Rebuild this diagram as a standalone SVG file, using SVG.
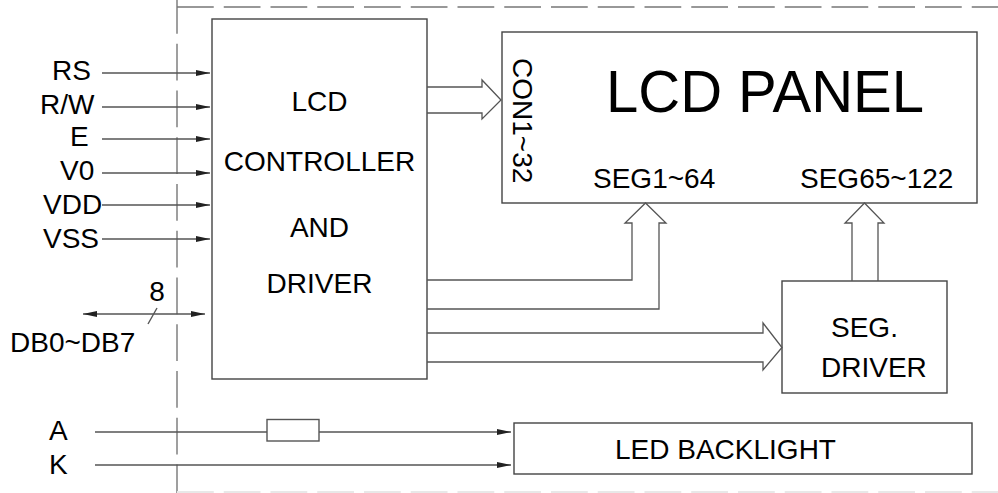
<svg xmlns="http://www.w3.org/2000/svg" width="998" height="493" viewBox="0 0 998 493">
<style>
text{font-family:"Liberation Sans",Arial,sans-serif;font-size:28px;fill:#000}
.box{fill:#fff;stroke:#444;stroke-width:1.4}
.ln{fill:none;stroke:#555;stroke-width:1.4}
.big{fill:none;stroke:#555;stroke-width:1.3;stroke-linejoin:miter}
.dash{fill:none;stroke:#777;stroke-width:1.4;stroke-dasharray:36.75 10}
</style>
<defs>
<marker id="ah" markerUnits="userSpaceOnUse" markerWidth="15" markerHeight="7" refX="14" refY="3" orient="auto-start-reverse" viewBox="0 0 15 7">
<path d="M0,0 L14,3 L0,6 z" fill="#222"/>
</marker>
</defs>
<g id="border">
<line class="dash" x1="177" y1="7" x2="998" y2="7"/>
<line class="dash" x1="177" y1="-3" x2="177" y2="493"/>
<line x1="177" y1="492" x2="998" y2="492" style="stroke:#e8e8e8;stroke-width:2;stroke-dasharray:36.75 10"/>
</g>
<g id="controller">
<rect class="box" x="212" y="19" width="215" height="360"/>
<text x="319.5" y="111" text-anchor="middle">LCD</text>
<text x="319.5" y="171" text-anchor="middle">CONTROLLER</text>
<text x="319.5" y="237" text-anchor="middle">AND</text>
<text x="319.5" y="293" text-anchor="middle">DRIVER</text>
</g>
<g id="lcd-panel">
<rect class="box" x="502" y="32" width="475" height="171"/>
<text transform="translate(513,58) rotate(90)">CON1~32</text>
<text x="606" y="112" style="font-size:60px" textLength="318" lengthAdjust="spacingAndGlyphs">LCD PANEL</text>
<text x="593" y="188">SEG1~64</text>
<text x="800" y="188">SEG65~122</text>
</g>
<g id="seg-driver">
<rect class="box" x="782" y="281" width="165" height="112"/>
<text x="831" y="337">SEG.</text>
<text x="821" y="377">DRIVER</text>
</g>
<g id="led-backlight">
<rect class="box" x="514" y="423" width="458" height="51"/>
<text x="615" y="459">LED BACKLIGHT</text>
</g>
<g id="resistor">
<rect x="267" y="419.5" width="52" height="21.5" fill="#fff" stroke="#555" stroke-width="1.4"/>
</g>
<g id="labels">
<text x="52" y="80">RS</text>
<text x="40" y="114">R/W</text>
<text x="70" y="146">E</text>
<text x="60" y="180">V0</text>
<text x="43" y="214">VDD</text>
<text x="43" y="248">VSS</text>
<text x="157" y="301" text-anchor="middle">8</text>
<text x="10" y="352">DB0~DB7</text>
<text x="49" y="440">A</text>
<text x="49" y="474">K</text>
</g>
<g id="connectors">
<line class="ln" x1="102" y1="73" x2="210" y2="73" marker-end="url(#ah)"/>
<line class="ln" x1="102" y1="107" x2="210" y2="107" marker-end="url(#ah)"/>
<line class="ln" x1="102" y1="139" x2="210" y2="139" marker-end="url(#ah)"/>
<line class="ln" x1="102" y1="173" x2="210" y2="173" marker-end="url(#ah)"/>
<line class="ln" x1="102" y1="205" x2="210" y2="205" marker-end="url(#ah)"/>
<line class="ln" x1="102" y1="239" x2="210" y2="239" marker-end="url(#ah)"/>
<line class="ln" x1="83" y1="314" x2="205" y2="314" marker-start="url(#ah)" marker-end="url(#ah)"/>
<line class="ln" x1="148" y1="324" x2="157" y2="308"/>
<line class="ln" x1="95" y1="432" x2="267" y2="432"/>
<line class="ln" x1="319" y1="432" x2="511" y2="432" marker-end="url(#ah)"/>
<line class="ln" x1="95" y1="465" x2="511" y2="465" marker-end="url(#ah)"/>
<polyline class="big" points="427,87 482,87 482,80 501,100 482,119 482,113 427,113"/>
<polyline class="big" points="427,280 632,280 632,223 625,223 645.5,203 666,223 659,223 659,309 427,309"/>
<polyline class="big" points="852,281 852,223 845,223 864.5,203 884,223 878,223 878,281"/>
<polyline class="big" points="427,333 763,333 763,323 782,347.5 763,370 763,362 427,362"/>
</g>
</svg>
